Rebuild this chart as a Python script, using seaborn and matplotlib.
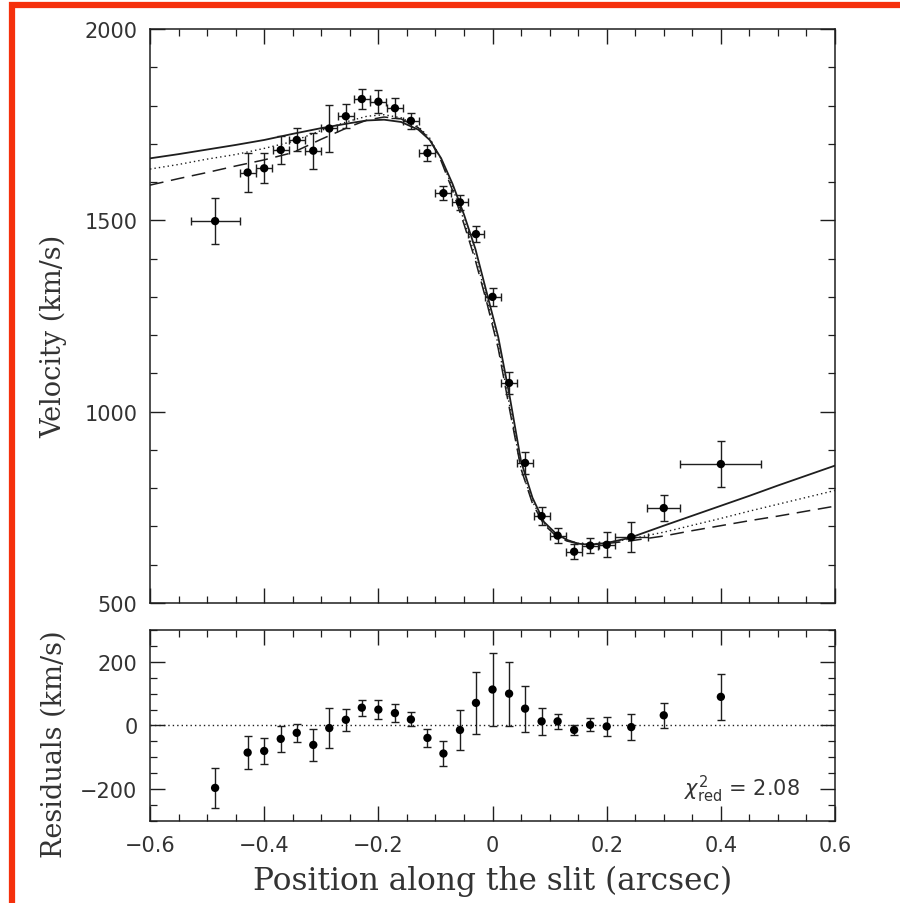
import numpy as np
import pandas as pd
import matplotlib
matplotlib.use("Agg")
import matplotlib.pyplot as plt
from matplotlib.patches import Rectangle
from matplotlib.ticker import MultipleLocator, FuncFormatter
import seaborn as sns

# Measured positions along the slit (arcsec) and half-widths of the bins
pos = [-0.486, -0.429, -0.400, -0.371, -0.343, -0.314, -0.286, -0.257, -0.229,
       -0.200, -0.171, -0.143, -0.114, -0.086, -0.057, -0.029, 0.000, 0.029,
       0.057, 0.086, 0.114, 0.143, 0.171, 0.200, 0.243, 0.300, 0.400]
pos_err = [0.043, 0.014, 0.014, 0.014, 0.014, 0.014, 0.014, 0.014, 0.014,
           0.014, 0.014, 0.014, 0.014, 0.014, 0.014, 0.014, 0.014, 0.014,
           0.014, 0.014, 0.014, 0.014, 0.014, 0.014, 0.029, 0.029, 0.071]

# Observed velocities (km/s)
velocity = [1498, 1625, 1636, 1684, 1710, 1682, 1740, 1772, 1817, 1810, 1793,
            1760, 1676, 1571, 1547, 1464, 1300, 1075, 866, 727, 676, 634, 650,
            652, 672, 748, 863]
velocity_err = [61, 52, 39, 36, 30, 47, 61, 31, 26, 30, 26, 21, 22, 18, 19, 20,
                23, 29, 28, 24, 19, 20, 19, 33, 39, 35, 61]

# Residuals with respect to the best-fitting model (km/s)
residual = [-196, -85, -80, -42, -23, -61, -8, 18, 56, 50, 39, 19, -39, -88,
            -14, 71, 113, 100, 53, 13, 13, -14, 2, -3, -5, 32, 90]
residual_err = [62, 52, 41, 40, 29, 49, 62, 35, 25, 31, 29, 22, 27, 40, 63, 98,
                114, 101, 72, 43, 24, 16, 20, 30, 40, 40, 72]

# Model rotation curves sampled along the slit
model_pos = [-0.60, -0.55, -0.50, -0.45, -0.40, -0.35, -0.30, -0.25, -0.22,
             -0.19, -0.16, -0.13, -0.11, -0.09, -0.07, -0.05, -0.03, -0.01,
             0.01, 0.03, 0.05, 0.07, 0.09, 0.11, 0.13, 0.15, 0.17, 0.19, 0.21,
             0.24, 0.30, 0.35, 0.40, 0.45, 0.50, 0.55, 0.60]
model_best = [1662, 1673, 1685, 1697, 1710, 1726, 1741, 1754, 1761, 1763, 1757,
              1737, 1710, 1662, 1595, 1515, 1425, 1310, 1195, 1040, 870, 775,
              712, 683, 665, 655, 652, 655, 660, 670, 702, 728, 754, 780, 807,
              833, 859]
model_alt1 = [1634, 1646, 1660, 1672, 1688, 1706, 1735, 1760, 1772, 1776, 1768,
              1745, 1715, 1660, 1585, 1500, 1405, 1295, 1175, 1015, 850, 765,
              708, 680, 664, 656, 654, 656, 660, 667, 685, 703, 721, 740, 758,
              776, 794]
model_alt2 = [1592, 1609, 1625, 1642, 1658, 1677, 1712, 1745, 1762, 1770, 1765,
              1742, 1712, 1655, 1578, 1490, 1395, 1285, 1165, 1005, 850, 760,
              705, 677, 662, 655, 653, 654, 657, 662, 675, 689, 702, 715, 727,
              740, 753]

chi2_label = r"$\chi^2_{\rm red}$ = 2.08"

sns.set_theme(style="ticks")
plt.rcParams["font.family"] = ["DejaVu Sans"]
ink = "#1e1e1e"
txt = "#333333"
plt.rcParams.update({
    "axes.edgecolor": ink, "axes.linewidth": 1.1,
    "xtick.color": ink, "ytick.color": ink,
    "xtick.labelcolor": txt, "ytick.labelcolor": txt,
    "xtick.direction": "in", "ytick.direction": "in",
    "xtick.major.size": 11, "ytick.major.size": 11,
    "xtick.minor.size": 5, "ytick.minor.size": 5,
    "xtick.major.width": 1.0, "ytick.major.width": 1.0,
    "xtick.minor.width": 0.9, "ytick.minor.width": 0.9,
    "xtick.top": True, "ytick.right": True,
    "xtick.major.pad": 10, "ytick.major.pad": 9,
})

fig = plt.figure(figsize=(9.0, 9.04), dpi=100)
ax = fig.add_axes([0.1667, 0.3319, 0.7611, 0.6349])
axr = fig.add_axes([0.1667, 0.0907, 0.7611, 0.2113])

models = pd.DataFrame({"pos": model_pos, "best": model_best,
                       "alt1": model_alt1, "alt2": model_alt2})
data = pd.DataFrame({"pos": pos, "pos_err": pos_err, "v": velocity,
                     "v_err": velocity_err, "res": residual,
                     "res_err": residual_err})

# Upper panel: velocity curve with the three models
sns.lineplot(data=models, x="pos", y="best", ax=ax, color=ink, lw=1.3,
             sort=False)
sns.lineplot(data=models, x="pos", y="alt1", ax=ax, color=ink, lw=1.0,
             sort=False, linestyle=(0, (1, 2.2)))
sns.lineplot(data=models, x="pos", y="alt2", ax=ax, color=ink, lw=1.1,
             sort=False, linestyle=(0, (9, 5)))
ax.errorbar(data["pos"], data["v"], xerr=data["pos_err"], yerr=data["v_err"],
            fmt="none", ecolor=ink, elinewidth=1.0, capsize=3, capthick=1.0)
sns.scatterplot(data=data, x="pos", y="v", ax=ax, color="black", s=36,
                edgecolor="none", zorder=5)

ax.set_xlim(-0.6, 0.6)
ax.set_ylim(500, 2000)
ax.xaxis.set_major_locator(MultipleLocator(0.2))
ax.xaxis.set_minor_locator(MultipleLocator(0.05))
ax.yaxis.set_major_locator(MultipleLocator(500))
ax.yaxis.set_minor_locator(MultipleLocator(100))
ax.tick_params(axis="x", which="both", labelbottom=False)
ax.tick_params(axis="y", labelsize=15)
ax.set_xlabel("")
ax.set_ylabel("Velocity (km/s)", family="DejaVu Serif", fontsize=19.5,
              color=txt)
ax.yaxis.set_label_coords(-0.121, 0.467)

# Lower panel: residuals
axr.axhline(0, color=ink, lw=1.0, linestyle=(0, (1, 2.2)))
axr.errorbar(data["pos"], data["res"], yerr=data["res_err"], fmt="none",
             ecolor=ink, elinewidth=1.0, capsize=3, capthick=1.0)
sns.scatterplot(data=data, x="pos", y="res", ax=axr, color="black", s=36,
                edgecolor="none", zorder=5)
axr.set_xlim(-0.6, 0.6)
axr.set_ylim(-300, 300)
axr.xaxis.set_major_locator(MultipleLocator(0.2))
axr.xaxis.set_minor_locator(MultipleLocator(0.05))
axr.yaxis.set_major_locator(MultipleLocator(200))
axr.yaxis.set_minor_locator(MultipleLocator(50))
axr.tick_params(axis="both", labelsize=15)
axr.xaxis.set_major_formatter(FuncFormatter(
    lambda v, _: "0" if abs(v) < 1e-9 else f"{v:.1f}".replace("-", "\u2212")))
axr.set_xlabel("Position along the slit (arcsec)", family="DejaVu Serif",
               fontsize=22.5, color=txt, labelpad=7)
axr.set_ylabel("Residuals (km/s)", family="DejaVu Serif", fontsize=19.5,
               color=txt)
axr.yaxis.set_label_coords(-0.121, 0.405)
axr.text(0.948, 0.17, chi2_label, transform=axr.transAxes, ha="right",
         va="center", fontsize=15, color=txt)

# Red frame around the figure
fig.patches.append(Rectangle((11.5 / 900, -0.1), 1.2, 1.1 - 5.5 / 904,
                             transform=fig.transFigure, fill=False,
                             edgecolor="#f5300c", lw=4.5, zorder=10))

fig.savefig("out.png", dpi=100)
